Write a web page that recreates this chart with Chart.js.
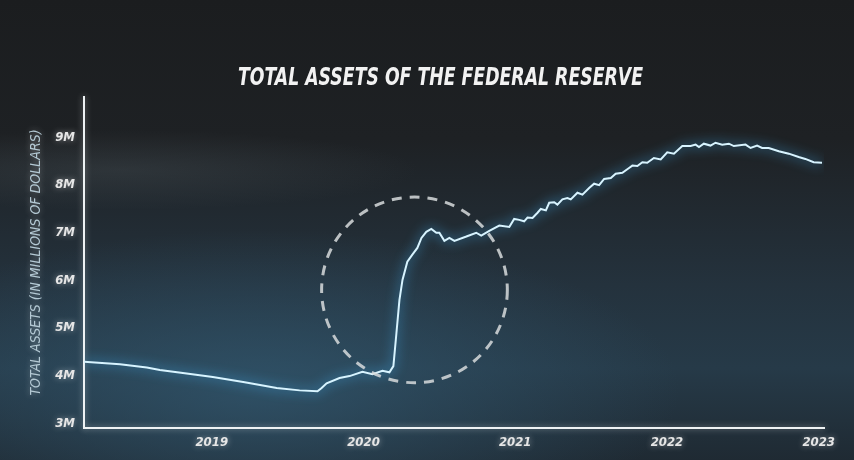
<!DOCTYPE html>
<html>
<head>
<meta charset="utf-8">
<script src="https://cdn.jsdelivr.net/npm/chart.js@4/dist/chart.umd.min.js"></script>
<style>
  html, body { margin: 0; padding: 0; }
  body {
    width: 854px; height: 460px; overflow: hidden;
    background:
      radial-gradient(ellipse 420px 160px at 260px 390px, rgba(50,88,112,0.75), rgba(50,88,112,0) 100%),
      radial-gradient(ellipse 300px 40px at 120px 170px, rgba(90,100,105,0.25), rgba(90,100,105,0) 100%),
      linear-gradient(to bottom, #1b1d1f 0%, #1e2124 30%, #24323d 62%, #263a48 80%, #1f2a33 100%);
  }
  #wrap { position: relative; width: 854px; height: 460px; }
  canvas { display: block; }
</style>
</head>
<body>
<div id="wrap"><canvas id="chart" width="854" height="460"></canvas></div>
<script>
const FONT = '"Liberation Sans Narrow", "DejaVu Sans Condensed", "Roboto", sans-serif';
const TITLE = 'TOTAL ASSETS OF THE FEDERAL RESERVE';

// time in decimal years, values in millions
const years = [
  2018.158, 2018.395, 2018.572, 2018.658, 2018.822, 2019.007, 2019.217, 2019.428,
  2019.579, 2019.697, 2019.724, 2019.757, 2019.842, 2019.908, 2019.993, 2020.059,
  2020.125, 2020.171, 2020.197, 2020.217, 2020.237, 2020.257, 2020.289, 2020.322,
  2020.355, 2020.382, 2020.414, 2020.447, 2020.480, 2020.500, 2020.533, 2020.566,
  2020.599, 2020.678, 2020.743, 2020.776, 2020.829, 2020.895, 2020.961, 2020.993,
  2021.026, 2021.059, 2021.081, 2021.114, 2021.147, 2021.169, 2021.202, 2021.224,
  2021.257, 2021.278, 2021.311, 2021.344, 2021.366, 2021.410, 2021.443, 2021.487,
  2021.520, 2021.553, 2021.586, 2021.630, 2021.662, 2021.706, 2021.750, 2021.772,
  2021.805, 2021.838, 2021.870, 2021.914, 2021.959, 2022.002, 2022.046, 2022.101,
  2022.156, 2022.189, 2022.211, 2022.243, 2022.287, 2022.320, 2022.364, 2022.408,
  2022.441, 2022.518, 2022.551, 2022.594, 2022.627, 2022.671, 2022.737, 2022.803,
  2022.868, 2022.912, 2022.967, 2023.022
];
const assets = [
  4.29, 4.24, 4.17, 4.12, 4.05, 3.97, 3.86, 3.74,
  3.69, 3.67, 3.74, 3.84, 3.95, 3.99, 4.08, 4.03,
  4.10, 4.07, 4.20, 4.89, 5.59, 6.01, 6.39, 6.54,
  6.68, 6.89, 7.02, 7.08, 7.00, 7.00, 6.83, 6.89,
  6.83, 6.92, 7.00, 6.94, 7.04, 7.15, 7.12, 7.29,
  7.27, 7.24, 7.32, 7.31, 7.42, 7.50, 7.47, 7.63,
  7.64, 7.59, 7.70, 7.73, 7.70, 7.84, 7.80, 7.94,
  8.03, 8.00, 8.13, 8.15, 8.24, 8.26, 8.36, 8.41,
  8.40, 8.48, 8.47, 8.57, 8.54, 8.69, 8.66, 8.82,
  8.82, 8.85, 8.80, 8.87, 8.83, 8.89, 8.85, 8.87,
  8.82, 8.85, 8.78, 8.83, 8.78, 8.78, 8.71, 8.66,
  8.59, 8.55, 8.48, 8.47
];
const yTicks = [3, 4, 5, 6, 7, 8, 9];
const xTicks = [2019, 2020, 2021, 2022, 2023];

// highlight ring around the 2020 jump
const ring = { x: 2020.336, y: 5.8, rx: 0.612 };

// soft white halo on the axes and their labels
const axisGlowPlugin = {
  id: 'axisGlow',
  beforeDraw(chart) {
    const ctx = chart.ctx;
    ctx.save();
    ctx.shadowColor = 'rgba(255,255,255,0.45)';
    ctx.shadowBlur = 6;
  },
  beforeDatasetsDraw(chart) {
    chart.ctx.restore();
  }
};

const glowPlugin = {
  id: 'glow',
  beforeDatasetDraw(chart) {
    const ctx = chart.ctx;
    ctx.save();
    ctx.shadowColor = 'rgba(70,185,255,1)';
    ctx.shadowBlur = 12;
  },
  afterDatasetDraw(chart) {
    chart.ctx.restore();
  }
};

const ringPlugin = {
  id: 'ring',
  afterDatasetsDraw(chart) {
    const { ctx, scales: { x, y } } = chart;
    const cx = x.getPixelForValue(ring.x);
    const cy = y.getPixelForValue(ring.y);
    const r = x.getPixelForValue(ring.x + ring.rx) - cx;
    ctx.save();
    ctx.strokeStyle = 'rgba(215,218,220,0.85)';
    ctx.lineWidth = 3;
    ctx.setLineDash([10, 8]);
    ctx.beginPath();
    ctx.arc(cx, cy, r, 0, Math.PI * 2);
    ctx.stroke();
    ctx.restore();
  }
};

// condensed headline, squeezed to the width of the original lettering
const headlinePlugin = {
  id: 'headline',
  afterDraw(chart) {
    const ctx = chart.ctx;
    ctx.save();
    ctx.font = 'italic bold 25px ' + FONT;
    const w = ctx.measureText(TITLE).width;
    const sx = 405 / w;
    ctx.translate(440.5, 85);
    ctx.scale(sx, 1);
    ctx.fillStyle = '#f2f2f2';
    ctx.textAlign = 'center';
    ctx.textBaseline = 'alphabetic';
    ctx.fillText(TITLE, 0, 0);
    ctx.restore();
  }
};

new Chart(document.getElementById('chart'), {
  type: 'line',
  data: {
    datasets: [{
      data: years.map((t, i) => ({ x: t, y: assets[i] })),
      borderColor: '#d8f4ff',
      borderWidth: 2,
      pointRadius: 0,
      tension: 0
    }]
  },
  options: {
    responsive: false,
    animation: false,
    layout: { padding: { top: 97, right: 30, left: 0, bottom: 0 } },
    plugins: {
      legend: { display: false },
      tooltip: { enabled: false },
      title: { display: false }
    },
    scales: {
      x: {
        type: 'linear',
        min: 2018.158,
        max: 2023.035,
        afterBuildTicks: s => { s.ticks = xTicks.map(v => ({ value: v })); },
        afterFit: s => { s.height = 32; },
        grid: { display: false, drawTicks: false },
        border: { color: '#eef2f4', width: 2 },
        ticks: {
          color: '#e6e6e6',
          padding: 7,
          maxRotation: 0,
          font: { family: FONT, size: 13, weight: 'bold', style: 'italic' },
          callback: v => String(v)
        }
      },
      y: {
        min: 2.9,
        max: 9.85,
        afterBuildTicks: s => { s.ticks = yTicks.map(v => ({ value: v })); },
        afterFit: s => { s.width = 84; },
        grid: { display: false, drawTicks: false },
        border: { color: '#eef2f4', width: 2 },
        ticks: {
          color: '#e6e6e6',
          padding: 9,
          font: { family: FONT, size: 13, weight: 'bold', style: 'italic' },
          callback: v => v + 'M'
        },
        title: {
          display: true,
          text: 'TOTAL ASSETS (IN MILLIONS OF DOLLARS)',
          color: '#b4c9d4',
          font: { family: FONT, size: 14, style: 'italic' },
          padding: { top: 28, bottom: 0 }
        }
      }
    }
  },
  plugins: [axisGlowPlugin, glowPlugin, ringPlugin, headlinePlugin]
});
</script>
</body>
</html>
